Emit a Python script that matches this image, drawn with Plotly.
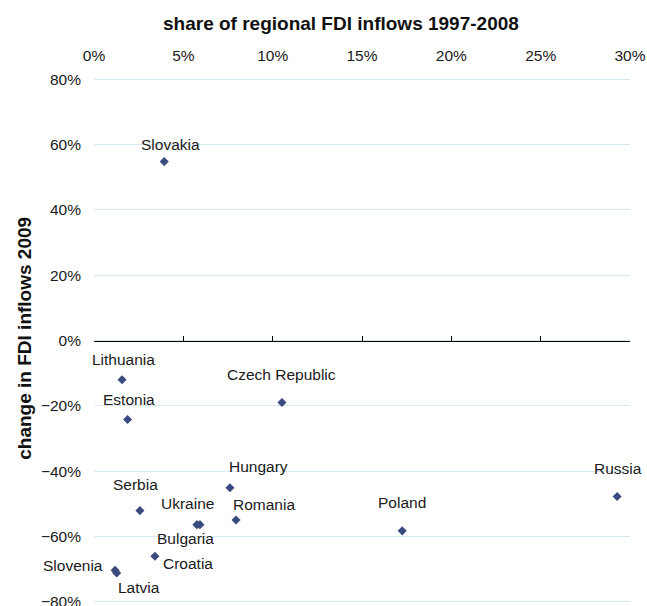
import plotly.graph_objects as go

# ---- data ----
countries = ["Slovakia", "Lithuania", "Czech Republic", "Estonia", "Hungary", "Serbia",
             "Ukraine", "Romania", "Bulgaria", "Croatia", "Slovenia", "Latvia",
             "Poland", "Russia"]
share_fdi = [0.0393, 0.0157, 0.1052, 0.0188, 0.0761, 0.0257,
             0.0576, 0.0795, 0.0593, 0.0341, 0.0118, 0.0127,
             0.1725, 0.2928]
change_fdi = [0.548, -0.120, -0.190, -0.242, -0.451, -0.521,
              -0.564, -0.550, -0.564, -0.661, -0.704, -0.712,
              -0.583, -0.478]
x_ticks = [0, 0.05, 0.10, 0.15, 0.20, 0.25, 0.30]
y_ticks = [-0.8, -0.6, -0.4, -0.2, 0, 0.2, 0.4, 0.6, 0.8]

# label pixel offsets (style only)
label_dx = [6, 1, 0, 1, 29, -4, -9, 28, -14, 33, -42, 22, 0, 1]
label_dy = [-17, -20, -28, -20, -21, -26, -21, -16, 14, 7, -5, 15, -28, -28]

FONT = "Liberation Sans, Arial, sans-serif"
MARK = "#3b4a7e"
GRID = "#d5e8f3"

fig = go.Figure()
fig.add_trace(go.Scatter(
    x=share_fdi, y=change_fdi, mode="markers",
    marker=dict(symbol="diamond", size=7, color=MARK, line=dict(width=0)),
    text=countries, hoverinfo="text", showlegend=False,
))
# invisible trace to carry the zero-crossing axis
fig.add_trace(go.Scatter(
    x=share_fdi, y=change_fdi, mode="markers", xaxis="x2",
    marker=dict(opacity=0), hoverinfo="skip", showlegend=False,
))

for name, xv, yv, dx, dy in zip(countries, share_fdi, change_fdi, label_dx, label_dy):
    fig.add_annotation(x=xv, y=yv, text=name, showarrow=False,
                       xanchor="center", yanchor="middle",
                       xshift=dx, yshift=-dy,
                       font=dict(family=FONT, size=15.5, color="#1a1a1a"))

fig.add_annotation(text="<b>share of regional FDI inflows 1997-2008</b>",
                   xref="paper", yref="paper", x=0.4608, y=1.103,
                   xanchor="center", yanchor="middle", showarrow=False,
                   font=dict(family=FONT, size=19, color="#111"))
fig.add_annotation(text="<b>change in FDI inflows 2009</b>",
                   xref="paper", yref="paper", x=-0.129, y=0.505,
                   xanchor="center", yanchor="middle", showarrow=False,
                   textangle=-90,
                   font=dict(family=FONT, size=19, color="#111"))

fig.update_layout(
    width=647, height=606,
    margin=dict(l=94, r=17, t=78, b=3),
    paper_bgcolor="white", plot_bgcolor="white",
    font=dict(family=FONT, size=15.5, color="#1a1a1a"),
    xaxis=dict(range=[0, 0.30], side="top", tickvals=x_ticks, tickformat=".0%",
               showgrid=False, zeroline=False, showline=False, ticks="",
               ticklabelstandoff=13, fixedrange=True, automargin=False),
    xaxis2=dict(overlaying="x", matches="x", anchor="free", position=0.5,
                side="bottom", tickvals=x_ticks, showticklabels=False,
                ticks="inside", ticklen=5, tickcolor="black",
                showline=True, linecolor="black", linewidth=1,
                showgrid=False, zeroline=False, automargin=False),
    yaxis=dict(range=[-0.804, 0.804], tickvals=y_ticks, tickformat=".0%",
               showgrid=True, gridcolor=GRID, gridwidth=1,
               zeroline=False, showline=False, ticks="",
               ticklabelstandoff=12, ticklabeloverflow="allow",
               fixedrange=True, automargin=False),
)

fig.write_html("out.html", config={"displayModeBar": False},
               post_script="document.body.style.margin='0';document.body.style.overflow='hidden';")
